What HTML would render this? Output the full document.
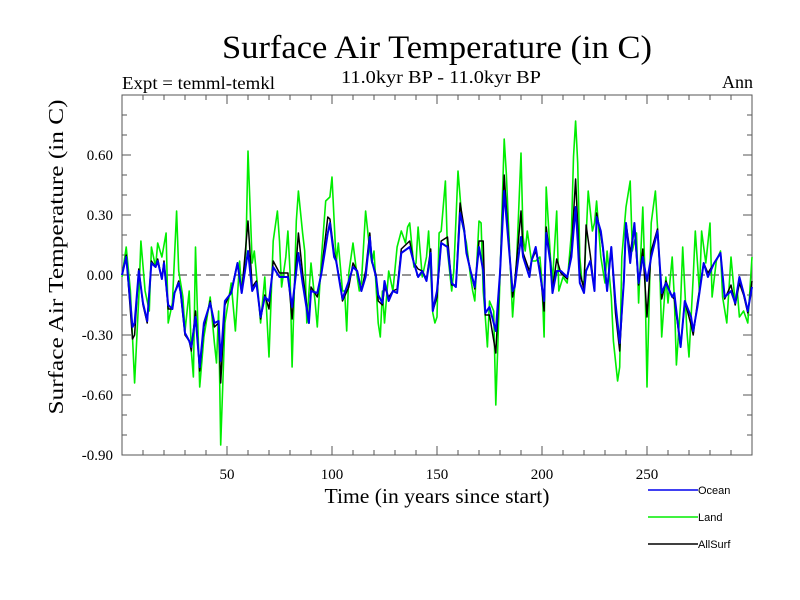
<!DOCTYPE html>
<html><head><meta charset="utf-8"><title>Surface Air Temperature</title>
<style>
html,body{margin:0;padding:0;background:#fff;}
svg{display:block;}
.serif{font-family:"Liberation Serif",serif;fill:#000;}
.sans{font-family:"Liberation Sans",sans-serif;fill:#000;}
</style></head>
<body>
<svg id="chart" width="800" height="600" viewBox="0 0 800 600">
<text class="serif" x="437" y="58" font-size="33" text-anchor="middle" textLength="430" lengthAdjust="spacingAndGlyphs">Surface Air Temperature (in C)</text>
<text class="serif" x="122" y="89" font-size="18" textLength="153" lengthAdjust="spacingAndGlyphs">Expt = temml-temkl</text>
<text class="serif" x="441" y="83" font-size="18" text-anchor="middle" textLength="200" lengthAdjust="spacingAndGlyphs">11.0kyr BP - 11.0kyr BP</text>
<text class="serif" x="753" y="88" font-size="18" text-anchor="end">Ann</text>
<text class="serif" font-size="21" text-anchor="middle" textLength="315" lengthAdjust="spacingAndGlyphs" transform="translate(63,257) rotate(-90)">Surface Air Temperature (in C)</text>
<text class="serif" x="437" y="503" font-size="21" text-anchor="middle" textLength="225" lengthAdjust="spacingAndGlyphs">Time (in years since start)</text>
<g id="grid"></g>
<g id="series"></g>
<g id="legend"></g>
</svg>
<script>
const xTicks = [50,100,150,200,250];
const yTicks = [0.6,0.3,0,-0.3,-0.6,-0.9];
const yTickLabels = ["0.60","0.30","0.00","-0.30","-0.60","-0.90"];

const oceanYears = [0,2,5,6,8,10,12,14,16,17,19,20,22,24,25,27,28,30,32,33,35,37,39,42,44,46,47,49,52,55,57,60,62,64,66,68,70,72,75,79,81,84,86,89,90,93,95,98,99,101,102,104,105,108,110,112,114,116,118,119,121,122,124,125,127,129,131,133,137,139,141,143,145,147,148,150,152,155,157,159,161,163,164,166,168,170,172,173,175,178,180,182,183,186,187,190,191,194,195,197,199,201,202,204,205,207,209,212,214,216,217,218,220,221,223,225,226,228,229,231,233,235,237,239,240,242,244,246,248,250,252,255,257,259,262,263,266,268,271,272,274,277,279,282,285,287,290,292,294,296,298,300];
const oceanVals = [0.00,0.09,-0.26,-0.24,0.02,-0.14,-0.23,0.06,0.04,0.07,-0.02,0.06,-0.15,-0.17,-0.09,-0.04,-0.09,-0.29,-0.33,-0.36,-0.21,-0.46,-0.24,-0.14,-0.24,-0.23,-0.43,-0.13,-0.09,0.06,-0.09,0.12,-0.08,-0.04,-0.21,-0.11,-0.13,0.04,-0.01,-0.01,-0.16,0.11,-0.04,-0.24,-0.08,-0.09,0.01,0.21,0.26,0.09,0.07,-0.06,-0.12,-0.03,0.04,0.02,-0.08,-0.01,0.19,0.07,-0.01,-0.10,-0.14,-0.03,-0.13,-0.08,-0.09,0.11,0.14,0.06,-0.01,0.02,-0.03,0.11,-0.18,-0.08,0.16,0.14,-0.04,-0.06,0.31,0.22,0.11,0.02,-0.06,0.14,0.02,-0.19,-0.16,-0.28,0.01,0.42,0.29,-0.08,-0.06,0.19,0.09,-0.01,0.07,0.14,0.01,-0.13,0.21,0.06,-0.09,0.02,0.02,-0.01,0.09,0.34,0.17,-0.04,-0.09,0.02,0.07,-0.08,0.29,0.22,0.14,-0.08,0.14,-0.14,-0.34,-0.03,0.26,0.06,0.26,-0.04,0.09,-0.03,0.09,0.22,-0.09,-0.04,-0.11,-0.09,-0.36,-0.13,-0.21,-0.28,-0.16,0.06,-0.01,0.06,0.11,-0.11,-0.08,-0.14,-0.01,-0.09,-0.18,-0.06];

const allYears = oceanYears;
const allVals = [0.00,0.10,-0.32,-0.30,0.03,-0.15,-0.24,0.07,0.04,0.08,-0.02,0.07,-0.17,-0.17,-0.09,-0.03,-0.10,-0.30,-0.33,-0.38,-0.18,-0.48,-0.26,-0.13,-0.26,-0.24,-0.54,-0.15,-0.08,0.06,-0.09,0.27,-0.06,-0.03,-0.22,-0.10,-0.17,0.07,0.01,0.01,-0.22,0.21,0.01,-0.24,-0.06,-0.11,0.02,0.29,0.28,0.11,0.07,-0.05,-0.13,-0.06,0.06,0.02,-0.08,0.02,0.21,0.07,0.00,-0.13,-0.15,-0.06,-0.11,-0.08,-0.07,0.13,0.17,0.06,0.03,0.02,-0.02,0.13,-0.18,-0.11,0.17,0.19,-0.05,-0.05,0.36,0.23,0.12,0.02,-0.07,0.17,0.17,-0.20,-0.20,-0.39,0.01,0.50,0.34,-0.11,-0.04,0.32,0.11,0.02,0.07,0.12,0.03,-0.18,0.24,0.07,-0.07,0.08,0.01,-0.02,0.12,0.48,0.25,0.01,-0.07,0.25,0.10,-0.08,0.31,0.20,0.13,-0.07,0.14,-0.19,-0.38,-0.01,0.26,0.11,0.24,-0.05,0.13,-0.21,0.12,0.23,-0.12,-0.03,-0.11,-0.12,-0.36,-0.13,-0.25,-0.30,-0.14,0.06,0.01,0.06,0.11,-0.12,-0.05,-0.15,-0.04,-0.10,-0.19,-0.03];

const landYears = [0,2,4,6,8,9,11,13,14,16,17,19,21,22,24,26,27,29,30,32,33,34,35,37,39,41,42,44,45,46,47,49,52,54,56,57,59,60,62,63,65,66,68,70,72,74,75,76,78,79,80,81,83,84,86,87,88,90,92,93,95,97,99,100,102,103,105,106,107,108,110,112,113,114,116,118,119,120,122,123,124,125,127,129,131,133,135,136,137,139,140,141,143,145,146,148,149,150,151,152,154,155,157,158,160,162,164,166,167,168,170,171,172,173,174,175,177,178,179,180,182,183,184,186,188,190,191,192,193,195,197,199,200,201,202,204,205,207,208,210,212,214,215,216,217,218,219,220,222,224,225,226,228,230,231,233,234,236,237,238,240,242,243,245,246,248,249,250,252,254,256,257,259,260,262,263,264,266,267,269,270,272,273,275,276,278,280,281,283,285,286,288,290,292,293,294,296,298,300];
const landVals = [-0.01,0.14,-0.08,-0.54,-0.11,0.17,-0.08,-0.18,0.14,0.04,0.16,0.09,0.21,-0.24,-0.14,0.32,0.02,-0.11,-0.28,-0.08,-0.38,-0.51,0.14,-0.56,-0.31,-0.18,-0.11,-0.34,-0.44,-0.18,-0.85,-0.24,-0.04,-0.28,0.07,-0.08,0.12,0.62,0.06,0.12,-0.11,-0.24,-0.01,-0.41,0.17,0.32,0.17,-0.06,0.09,0.22,0.02,-0.46,0.27,0.42,0.21,0.12,-0.24,0.06,-0.14,-0.26,0.09,0.37,0.39,0.49,0.06,0.16,-0.08,-0.08,-0.28,0.01,0.16,-0.01,-0.08,-0.04,0.32,0.12,0.06,0.12,-0.24,-0.31,-0.08,-0.24,0.02,-0.08,0.14,0.22,0.16,0.24,0.26,0.04,0.06,0.24,-0.01,0.09,0.22,-0.19,-0.24,-0.21,0.21,0.22,0.47,0.12,-0.08,0.02,0.52,0.26,0.16,-0.01,-0.08,-0.13,0.27,0.26,-0.08,-0.21,-0.36,-0.13,-0.18,-0.65,-0.34,-0.01,0.68,0.51,0.26,-0.21,0.09,0.61,0.19,0.12,0.22,0.07,0.07,0.09,-0.04,-0.31,0.44,0.09,-0.03,0.32,-0.08,-0.01,-0.04,0.21,0.59,0.77,0.56,0.09,-0.03,-0.04,0.42,0.22,0.26,0.37,0.09,-0.04,0.12,-0.11,-0.33,-0.53,-0.46,0.09,0.34,0.47,0.12,0.21,-0.14,0.34,0.01,-0.56,0.26,0.42,0.06,-0.31,-0.01,-0.14,0.09,-0.11,-0.45,-0.14,0.14,-0.28,-0.41,-0.01,0.22,-0.09,0.22,0.06,0.26,-0.11,0.07,0.12,-0.11,-0.24,0.09,-0.14,-0.08,-0.21,-0.18,-0.24,0.09];

const NS = "http://www.w3.org/2000/svg";
const L = 122, R = 752, T = 95, B = 455;
const xMin = 0, xMax = 300, yMin = -0.9, yMax = 0.9;
function xScale(v){ return L + (v - xMin) / (xMax - xMin) * (R - L); }
function yScale(v){ return B - (v - yMin) / (yMax - yMin) * (B - T); }
function mk(tag, attrs, parent){
  const e = document.createElementNS(NS, tag);
  for (const k in attrs) e.setAttribute(k, attrs[k]);
  parent.appendChild(e);
  return e;
}
const grid = document.getElementById('grid');
const frame = mk('rect', {x:L, y:T, width:R-L, height:B-T, fill:'none', stroke:'#555', 'stroke-width':1}, grid);


for (let v = 10; v < 300; v += 10) {
  const x = xScale(v), len = (v % 50 === 0) ? 9 : 5;
  const t1 = mk('line', {x1:x, x2:x, y1:B, y2:B-len, stroke:'#555', 'stroke-width':1}, grid);
  
  
  const t2 = mk('line', {x1:x, x2:x, y1:T, y2:T+len, stroke:'#555', 'stroke-width':1}, grid);
  
  
}
xTicks.forEach(v => {
  const t = mk('text', {x:xScale(v), y:479, 'font-size':15, 'text-anchor':'middle', class:'serif'}, grid);
  t.textContent = String(v);
  
  
});
for (let i = -8; i <= 8; i++) {
  const v = i / 10, y = yScale(v), len = (i % 3 === 0) ? 9 : 5;
  const t1 = mk('line', {x1:L, x2:L+len, y1:y, y2:y, stroke:'#555', 'stroke-width':1}, grid);
  
  
  const t2 = mk('line', {x1:R, x2:R-len, y1:y, y2:y, stroke:'#555', 'stroke-width':1}, grid);
  
  
}
yTicks.forEach((v, i) => {
  const t = mk('text', {x:113, y:yScale(v)+5, 'font-size':15, 'text-anchor':'end', class:'serif'}, grid);
  t.textContent = yTickLabels[i];
  
  
});
const zl = mk('line', {x1:L, x2:R, y1:yScale(0), y2:yScale(0), stroke:'#555', 'stroke-width':1.2, 'stroke-dasharray':'9,5'}, grid);



const series = document.getElementById('series');
function draw(xs, ys, color, w, name){
  const d = xs.map((x, i) => (i ? 'L' : 'M') + xScale(x).toFixed(1) + ',' + yScale(ys[i]).toFixed(1)).join(' ');
  const p = mk('path', {d:d, fill:'none', stroke:color, 'stroke-width':w, 'stroke-linejoin':'round'}, series);
  
  
}
draw(landYears, landVals, '#00ee00', 1.6, 'land-line');
draw(allYears, allVals, '#000000', 1.5, 'allsurf-line');
draw(oceanYears, oceanVals, '#0000ee', 2, 'ocean-line');

const legend = document.getElementById('legend');
const items = [['Ocean','#0000ee',490],['Land','#00ee00',517],['AllSurf','#000000',544]];
items.forEach(it => {
  const ln = mk('line', {x1:648, x2:698, y1:it[2], y2:it[2], stroke:it[1], 'stroke-width':1.5}, legend);
  
  
  const tx = mk('text', {x:698, y:it[2]+4, 'font-size':11, class:'sans'}, legend);
  tx.textContent = it[0];
  
  
});
</script>
</body></html>
